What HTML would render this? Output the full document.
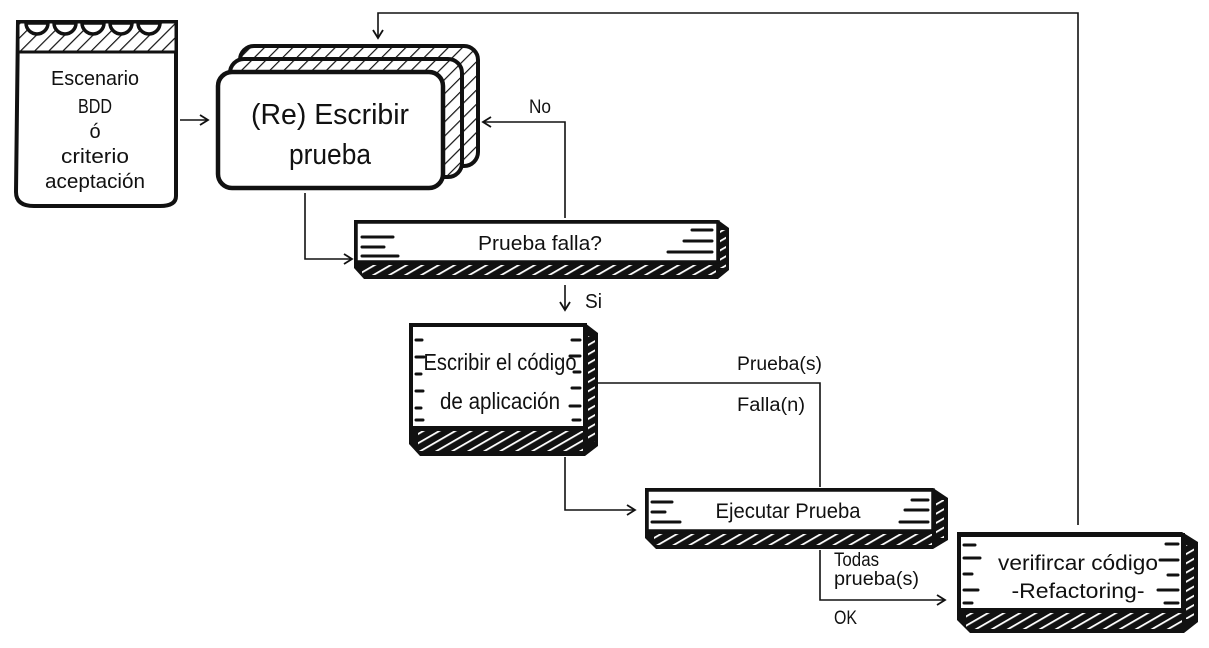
<!DOCTYPE html>
<html><head><meta charset="utf-8"><style>
html,body{margin:0;padding:0;background:#fff;}
svg{display:block;}
text{font-family:"Liberation Sans",sans-serif;fill:#111;}
</style></head><body>
<svg width="1209" height="648" viewBox="0 0 1209 648" xmlns="http://www.w3.org/2000/svg">
<defs>
<pattern id="hw" width="8" height="8" patternUnits="userSpaceOnUse" patternTransform="rotate(60)">
<rect width="8" height="8" fill="#111"/><rect x="0" y="0" width="1.8" height="8" fill="#fff"/></pattern>
<pattern id="hb" width="10" height="10" patternUnits="userSpaceOnUse" patternTransform="rotate(45)">
<rect width="10" height="10" fill="#fff"/><rect x="0" y="0" width="1.2" height="10" fill="#111"/></pattern>
<marker id="ar" markerWidth="12" markerHeight="12" refX="10" refY="6" orient="auto" markerUnits="userSpaceOnUse">
<path d="M2,1 L10,6 L2,11" fill="none" stroke="#111" stroke-width="1.8"/></marker>
</defs>
<g fill="none" stroke="#111" stroke-width="1.6">
<path d="M180,120 H208" marker-end="url(#ar)"/>
<path d="M1078,525 V13 H378 V38" marker-end="url(#ar)"/>
<path d="M565,218 V122 H483" marker-end="url(#ar)"/>
<path d="M305,193 V259 H352" marker-end="url(#ar)"/>
<path d="M565,285 V310" marker-end="url(#ar)"/>
<path d="M597,383 H820 V487"/>
<path d="M565,457 V510 H635" marker-end="url(#ar)"/>
<path d="M820,550 V600 H945" marker-end="url(#ar)"/>
</g>
<!-- notepad -->
<path d="M18,22 H176 V196 Q176,206 160,206 H34 Q16,206 16,192 Z" fill="#fff" stroke="#111" stroke-width="4"/>
<rect x="18" y="22" width="158" height="30" fill="url(#hb)" stroke="#111" stroke-width="3"/>
<g fill="#fff" stroke="#111" stroke-width="3.5">
<path d="M26,23 a11,11 0 0 0 22,0 Z"/><path d="M54,23 a11,11 0 0 0 22,0 Z"/><path d="M82,23 a11,11 0 0 0 22,0 Z"/><path d="M110,23 a11,11 0 0 0 22,0 Z"/><path d="M138,23 a11,11 0 0 0 22,0 Z"/>
</g>
<g font-size="20" text-anchor="middle" lengthAdjust="spacingAndGlyphs">
<text x="95" y="85" textLength="88" lengthAdjust="spacingAndGlyphs">Escenario</text>
<text x="95" y="113" textLength="34" lengthAdjust="spacingAndGlyphs">BDD</text>
<text x="95" y="138">ó</text>
<text x="95" y="163" textLength="68" lengthAdjust="spacingAndGlyphs">criterio</text>
<text x="95" y="188" textLength="100" lengthAdjust="spacingAndGlyphs">aceptación</text>
</g>
<!-- card stack -->
<rect x="240" y="46" width="238" height="120" rx="14" fill="url(#hb)" stroke="#111" stroke-width="4"/>
<rect x="230" y="59" width="232" height="118" rx="14" fill="url(#hb)" stroke="#111" stroke-width="4"/>
<rect x="218" y="72" width="225" height="116" rx="14" fill="#fff" stroke="#111" stroke-width="4.5"/>
<text x="330" y="124" font-size="29" text-anchor="middle" textLength="158" lengthAdjust="spacingAndGlyphs">(Re) Escribir</text>
<text x="330" y="164" font-size="29" text-anchor="middle" textLength="82" lengthAdjust="spacingAndGlyphs">prueba</text>
<text x="540" y="113" font-size="19" text-anchor="middle" textLength="22" lengthAdjust="spacingAndGlyphs">No</text>
<text x="585" y="308" font-size="20" textLength="17" lengthAdjust="spacingAndGlyphs">Si</text>

<!-- box: Prueba falla -->
<path d="M354,220 H718 L729,228 V270 L718,279 H364 L354,268 Z" fill="#111"/>
<rect x="362" y="265" width="354" height="10" fill="url(#hw)"/>
<rect x="720" y="230" width="6" height="38" fill="url(#hw)"/>
<rect x="356" y="222" width="362" height="40" fill="#fff" stroke="#111" stroke-width="3.5"/>
<g stroke="#111" stroke-width="3" stroke-linecap="round"><path d="M362,237 H393 M362,247 H384 M362,256 H398 M712,230 H692 M712,241 H684 M712,252 H668"/></g>
<text x="540" y="250" font-size="20" text-anchor="middle" textLength="124" lengthAdjust="spacingAndGlyphs">Prueba falla?</text>

<!-- box: Escribir el código -->
<path d="M409,323 H585 L598,333 V446 L585,456 H420 L409,444 Z" fill="#111"/>
<rect x="418" y="431" width="165" height="20" fill="url(#hw)"/>
<rect x="588" y="336" width="7" height="106" fill="url(#hw)"/>
<rect x="411" y="325" width="174" height="103" fill="#fff" stroke="#111" stroke-width="4"/>
<g stroke="#111" stroke-width="3" stroke-linecap="round"><path d="M416,340 H422 M416,357 H424 M416,374 H421 M416,391 H423 M416,408 H421 M416,420 H423 M580,340 H572 M580,356 H570 M580,372 H574 M580,388 H572 M580,406 H570 M580,420 H573"/></g>
<text x="500" y="370" font-size="23" text-anchor="middle" textLength="153" lengthAdjust="spacingAndGlyphs">Escribir el código</text>
<text x="500" y="409" font-size="23" text-anchor="middle" textLength="120" lengthAdjust="spacingAndGlyphs">de aplicación</text>
<text x="737" y="370" font-size="19" textLength="85" lengthAdjust="spacingAndGlyphs">Prueba(s)</text>
<text x="737" y="411" font-size="19" textLength="68" lengthAdjust="spacingAndGlyphs">Falla(n)</text>

<!-- box: Ejecutar Prueba -->
<path d="M645,488 H933 L948,498 V540 L933,549 H656 L645,538 Z" fill="#111"/>
<rect x="654" y="534" width="278" height="11" fill="url(#hw)"/>
<rect x="936" y="500" width="8" height="38" fill="url(#hw)"/>
<rect x="647" y="490" width="286" height="41" fill="#fff" stroke="#111" stroke-width="3.5"/>
<g stroke="#111" stroke-width="3" stroke-linecap="round"><path d="M652,502 H672 M652,512 H665 M652,522 H680 M928,500 H912 M928,510 H905 M928,522 H900"/></g>
<text x="788" y="518" font-size="21" text-anchor="middle" textLength="145" lengthAdjust="spacingAndGlyphs">Ejecutar Prueba</text>
<text x="834" y="566" font-size="19" textLength="45" lengthAdjust="spacingAndGlyphs">Todas</text>
<text x="834" y="585" font-size="19" textLength="85" lengthAdjust="spacingAndGlyphs">prueba(s)</text>
<text x="834" y="624" font-size="19" textLength="23" lengthAdjust="spacingAndGlyphs">OK</text>

<!-- box: verificar -->
<path d="M957,532 H1182 L1198,542 V622 L1184,633 H970 L957,620 Z" fill="#111"/>
<rect x="966" y="613" width="216" height="16" fill="url(#hw)"/>
<rect x="1186" y="545" width="8" height="74" fill="url(#hw)"/>
<rect x="959" y="535" width="224" height="75" fill="#fff" stroke="#111" stroke-width="4"/>
<g stroke="#111" stroke-width="3" stroke-linecap="round"><path d="M964,545 H975 M964,558 H980 M964,574 H972 M964,590 H978 M964,603 H972 M1178,544 H1166 M1178,560 H1160 M1178,575 H1168 M1178,590 H1158 M1178,603 H1165"/></g>
<text x="1078" y="570" font-size="21" text-anchor="middle" textLength="160" lengthAdjust="spacingAndGlyphs">verifircar código</text>
<text x="1078" y="598" font-size="21" text-anchor="middle" textLength="133" lengthAdjust="spacingAndGlyphs">-Refactoring-</text>
</svg>
</body></html>
